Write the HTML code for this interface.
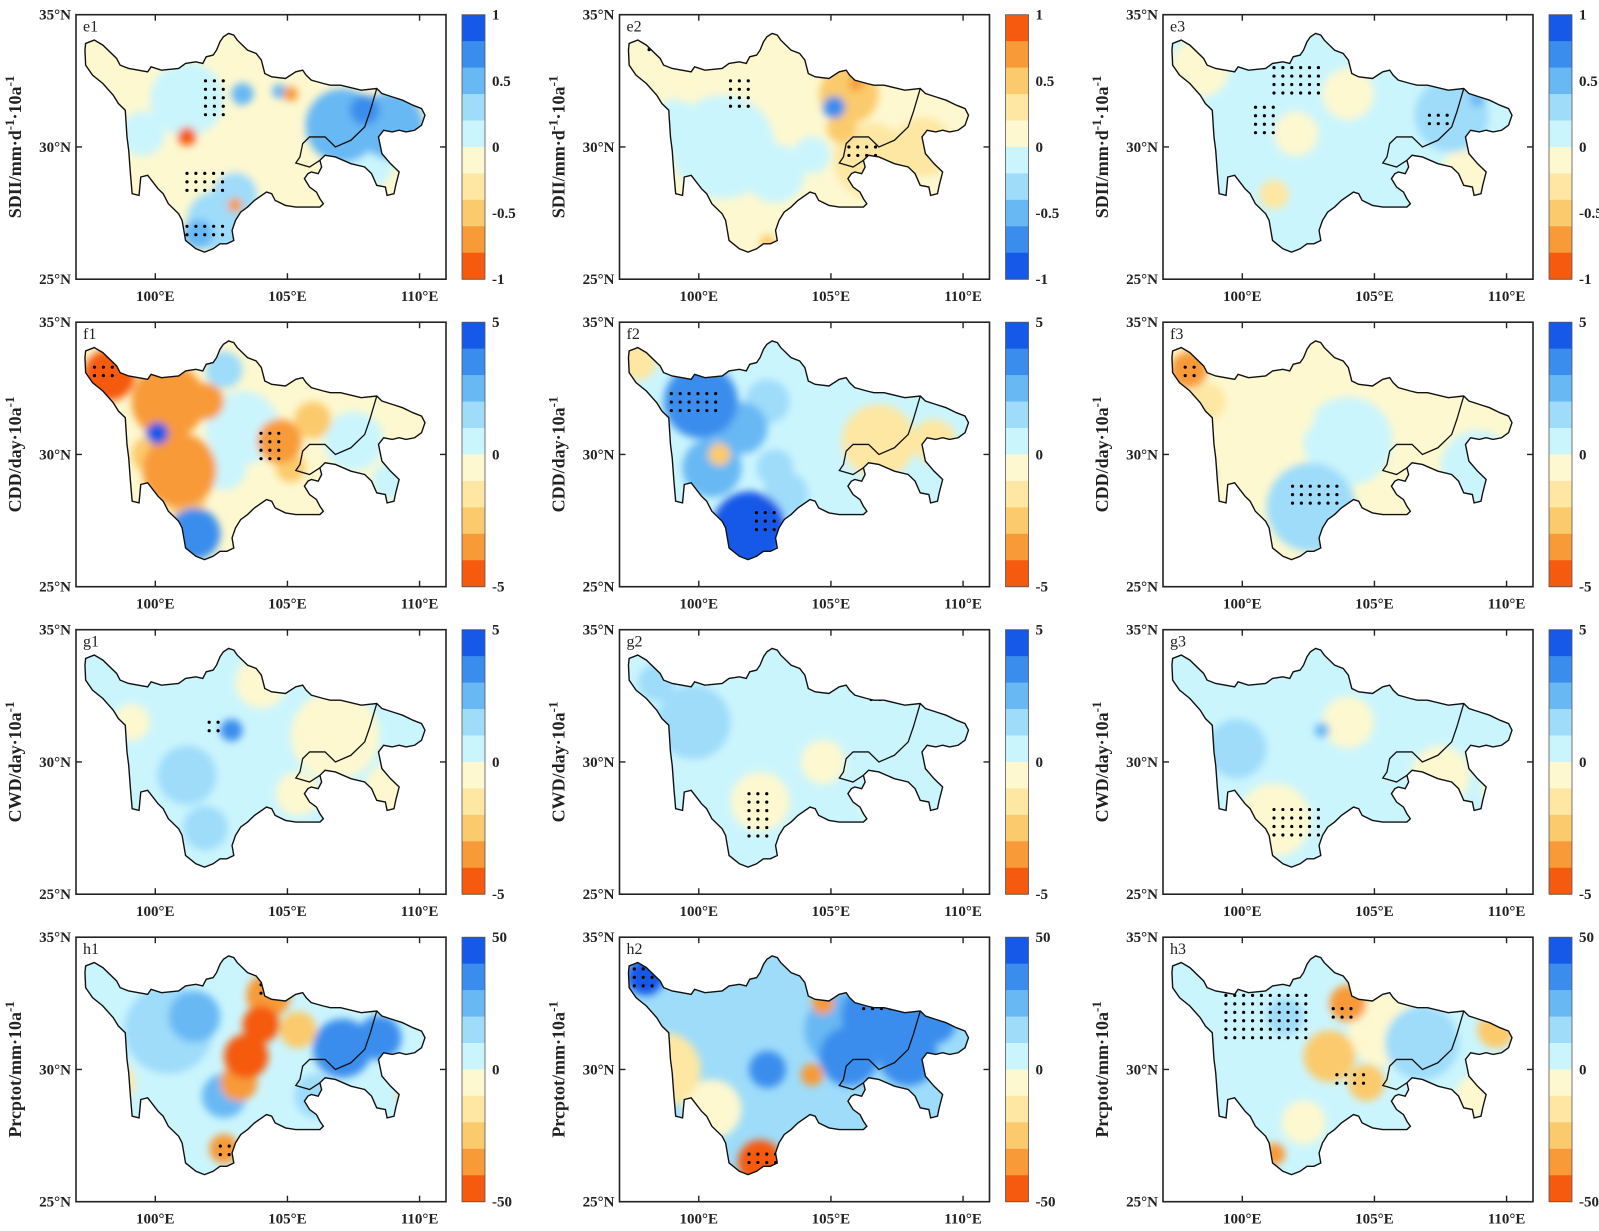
<!DOCTYPE html>
<html><head><meta charset="utf-8">
<style>
html,body{margin:0;padding:0;background:#fff;}
svg{display:block;font-family:"Liberation Serif",serif;}
.tk{font-weight:bold;font-size:15px;fill:#222;}
.yl{font-weight:bold;font-size:18px;fill:#222;}
.pl{font-size:16px;fill:#222;}
</style></head>
<body>
<svg id="fig" width="1599" height="1231" viewBox="0 0 1599 1231" xmlns="http://www.w3.org/2000/svg">
<defs><filter id="bl" x="-50%" y="-50%" width="200%" height="200%"><feGaussianBlur stdDeviation="4"/></filter></defs>
</svg>
<script>
// ---- data ----
const panelIds = ['e1','e2','e3','f1','f2','f3','g1','g2','g3','h1','h2','h3'];
const rowLabels = [['SDII/mm·d','-1','·10a','-1'],['CDD/day·10a','-1'],['CWD/day·10a','-1'],['Prcptot/mm·10a','-1']];
const rowMax = [1,5,5,50];
const tickLabelsE = ['1','0.5','0','-0.5','-1'];
const tickLabelsF = ['5','0','-5'];
const tickLabelsH = ['50','0','-50'];
const lonTicks = [100,105,110];
const latTicks = [35,30,25];
const reversedPanels = ['e2'];
const baseValues = [-0.05,0.1,0.1,-0.5,0.6,-0.5,0.3,0.6,0.6,3,15,5];
const e1Blobs=[[0.3,0.32,0.1,0.15],[0.18,0.45,0.06,0.12],[0.72,0.42,0.1,0.4],[0.85,0.42,0.09,0.45],[0.78,0.36,0.04,0.7],[0.38,0.78,0.08,0.35],[0.43,0.68,0.06,0.3],[0.33,0.83,0.04,0.55],[0.3,0.46,0.025,-0.8],[0.52,0.45,0.08,-0.2],[0.45,0.58,0.08,-0.12],[0.58,0.3,0.02,-0.7],[0.55,0.29,0.02,0.6],[0.43,0.72,0.02,-0.7],[0.45,0.3,0.03,0.5],[0.78,0.55,0.08,0.1]];
const e2Blobs=[[0.28,0.5,0.14,-0.15],[0.15,0.42,0.07,-0.1],[0.42,0.6,0.08,-0.1],[0.62,0.3,0.08,0.45],[0.68,0.55,0.1,0.35],[0.6,0.43,0.04,0.6],[0.64,0.26,0.02,0.7],[0.82,0.5,0.08,0.3],[0.58,0.35,0.03,-0.6],[0.52,0.53,0.05,-0.2],[0.4,0.86,0.02,0.6]];
const e3Blobs=[[0.1,0.2,0.08,-0.1],[0.36,0.45,0.06,-0.2],[0.3,0.68,0.04,-0.3],[0.5,0.3,0.07,-0.1],[0.78,0.38,0.1,0.25],[0.85,0.32,0.02,0.55],[0.5,0.6,0.08,0.2],[0.82,0.6,0.07,-0.05]];
const f1Blobs=[[0.09,0.2,0.07,-4.5],[0.25,0.3,0.1,-3.5],[0.28,0.56,0.1,-3],[0.2,0.5,0.05,-2],[0.55,0.45,0.06,-3],[0.64,0.37,0.05,-2.5],[0.22,0.42,0.03,4.5],[0.32,0.8,0.07,3.5],[0.4,0.18,0.05,2],[0.45,0.4,0.1,0.8],[0.4,0.55,0.06,1],[0.85,0.6,0.05,1],[0.75,0.45,0.08,0.3],[0.3,0.68,0.05,-2.5],[0.35,0.3,0.05,-3],[0.58,0.55,0.04,-2.5]];
const f2Blobs=[[0.22,0.3,0.1,3.5],[0.35,0.78,0.1,4.5],[0.25,0.55,0.08,2.5],[0.4,0.3,0.06,2],[0.33,0.4,0.07,2.5],[0.45,0.65,0.06,2],[0.7,0.45,0.1,-1],[0.85,0.45,0.06,-1.2],[0.05,0.15,0.05,-1.5],[0.27,0.5,0.03,-2.5],[0.42,0.55,0.05,1.5],[0.6,0.55,0.06,0.5]];
const f3Blobs=[[0.07,0.18,0.05,-3],[0.12,0.3,0.05,-1.5],[0.4,0.7,0.12,1.5],[0.5,0.45,0.12,0.7],[0.85,0.55,0.1,0.6],[0.12,0.58,0.02,3],[0.35,0.35,0.06,-0.8],[0.65,0.25,0.06,-0.8]];
const g1Blobs=[[0.42,0.38,0.03,3.5],[0.7,0.4,0.12,-0.5],[0.85,0.6,0.07,-0.5],[0.5,0.2,0.07,-0.5],[0.6,0.62,0.06,-0.5],[0.3,0.55,0.08,1.5],[0.35,0.75,0.06,1.5],[0.15,0.35,0.05,-0.5]];
const g2Blobs=[[0.38,0.65,0.08,-0.3],[0.2,0.35,0.1,1.5],[0.1,0.2,0.05,1.5],[0.55,0.5,0.06,-0.3],[0.7,0.65,0.05,-0.3]];
const g3Blobs=[[0.5,0.35,0.07,-0.5],[0.75,0.55,0.08,-0.5],[0.3,0.72,0.1,-0.5],[0.43,0.38,0.02,3],[0.2,0.45,0.08,1.2],[0.9,0.6,0.04,-0.8]];
const h1Blobs=[[0.25,0.35,0.12,12],[0.32,0.3,0.07,25],[0.4,0.6,0.06,25],[0.72,0.42,0.08,40],[0.82,0.38,0.06,35],[0.22,0.6,0.08,10],[0.52,0.22,0.06,-35],[0.5,0.33,0.05,-40],[0.46,0.45,0.06,-42],[0.44,0.55,0.05,-35],[0.92,0.6,0.05,-25],[0.1,0.55,0.06,-15],[0.4,0.8,0.04,-30],[0.6,0.35,0.05,-20],[0.95,0.3,0.03,-30],[0.65,0.6,0.06,15]];
const h2Blobs=[[0.07,0.15,0.05,45],[0.7,0.3,0.1,40],[0.78,0.45,0.08,40],[0.62,0.45,0.08,38],[0.85,0.32,0.06,38],[0.4,0.5,0.05,35],[0.6,0.35,0.1,25],[0.12,0.5,0.1,-15],[0.38,0.85,0.06,-40],[0.52,0.52,0.03,-30],[0.25,0.65,0.08,-5],[0.55,0.25,0.03,-35]];
const h3Blobs=[[0.33,0.3,0.05,20],[0.5,0.25,0.05,-35],[0.45,0.45,0.07,-25],[0.55,0.55,0.05,-20],[0.3,0.82,0.03,-35],[0.9,0.35,0.05,-20],[0.6,0.35,0.1,-8],[0.85,0.6,0.06,-5],[0.38,0.7,0.06,-5],[0.7,0.4,0.1,15]];
const blobSets=[e1Blobs,e2Blobs,e3Blobs,f1Blobs,f2Blobs,f3Blobs,g1Blobs,g2Blobs,g3Blobs,h1Blobs,h2Blobs,h3Blobs];
const e1Dots=[[0.35,0.25,0.42,0.38],[0.3,0.6,0.4,0.68],[0.3,0.8,0.4,0.84]];
const e2Dots=[[0.08,0.1,0.14,0.15],[0.3,0.25,0.35,0.36],[0.62,0.5,0.7,0.54]];
const e3Dots=[[0.3,0.2,0.42,0.3],[0.25,0.35,0.3,0.45],[0.72,0.38,0.78,0.42]];
const f1Dots=[[0.05,0.17,0.12,0.22],[0.5,0.42,0.56,0.52]];
const f2Dots=[[0.14,0.27,0.28,0.35],[0.37,0.72,0.42,0.8]];
const f3Dots=[[0.06,0.17,0.1,0.22],[0.35,0.62,0.48,0.7]];
const g1Dots=[[0.36,0.35,0.4,0.4]];
const g2Dots=[[0.35,0.62,0.4,0.78],[0.68,0.2,0.72,0.28]];
const g3Dots=[[0.3,0.68,0.42,0.8],[0.9,0.55,0.95,0.65]];
const h1Dots=[[0.5,0.18,0.56,0.22],[0.39,0.79,0.43,0.83]];
const h2Dots=[[0.04,0.12,0.09,0.2],[0.35,0.82,0.43,0.88],[0.66,0.27,0.74,0.3]];
const h3Dots=[[0.17,0.22,0.4,0.38],[0.46,0.27,0.52,0.33],[0.47,0.52,0.55,0.56]];
const dotSets=[e1Dots,e2Dots,e3Dots,f1Dots,f2Dots,f3Dots,g1Dots,g2Dots,g3Dots,h1Dots,h2Dots,h3Dots];

const colorsBlueTop=['#1459e8','#3b8ded','#68b8f4','#9edcfa','#cbf5fd','#fdf8d0','#fde7a3','#fbca6c','#f89a38','#f55a0f'];
const outlineRaw=[[250,130],[275,120],[300,135],[340,175],[350,195],[375,205],[430,215],[440,200],[470,210],[520,205],[540,190],[570,185],[590,190],[600,170],[620,165],[630,150],[640,125],[650,110],[665,100],[680,105],[690,120],[720,150],[745,160],[760,180],[770,220],[790,230],[830,235],[860,215],[880,210],[890,225],[905,240],[940,250],[960,255],[990,255],[1050,270],[1095,265],[1110,280],[1140,290],[1170,300],[1200,315],[1225,325],[1235,345],[1225,375],[1205,390],[1180,395],[1160,390],[1140,395],[1115,390],[1100,410],[1110,460],[1135,490],[1160,515],[1150,555],[1145,580],[1125,585],[1120,560],[1095,555],[1080,520],[1060,500],[1020,490],[975,470],[945,465],[930,480],[935,500],[925,520],[905,515],[895,520],[885,535],[900,560],[920,575],[930,595],[940,610],[930,620],[900,620],[860,620],[830,615],[800,600],[790,580],[775,575],[740,600],[720,620],[700,635],[685,660],[675,690],[680,720],[660,730],[640,730],[620,745],[595,755],[570,745],[540,720],[535,690],[530,660],[520,640],[490,610],[475,580],[460,565],[430,525],[410,530],[405,585],[385,580],[380,520],[375,450],[370,410],[365,330],[345,310],[330,285],[300,250],[270,225],[250,195],[248,150]];
const innerRaw=[[1095,265],[1085,300],[1075,335],[1060,380],[1020,420],[975,440],[945,410],[900,410],[880,430],[872,470],[860,488],[900,500],[930,480]];

// ---- drawing ----
const NS='http://www.w3.org/2000/svg';
const svg=document.getElementById('fig');
const BW=370, BH=264.5, X0=76, Y0=14.7, DX=543.5, DY=307.5;
function el(t,a,p){const e=document.createElementNS(NS,t);for(const k in a)e.setAttribute(k,a[k]);(p||svg).appendChild(e);return e;}
function pts(raw){return raw.map(p=>[(p[0]-222)/1074*BW,(p[1]-44)/792*BH]);}
const outline=pts(outlineRaw), inner=pts(innerRaw);
const outlineStr=outline.map(p=>p.join(',')).join(' ');
const lonX=l=>(l-97)/14*BW, latY=l=>(35-l)/10*BH;

panelIds.forEach((id,i)=>{
  const r=Math.floor(i/3), c=i%3;
  const bx=X0+c*DX, by=Y0+r*DY;
  const M=rowMax[r];
  const cols=reversedPanels.includes(id)?colorsBlueTop.slice().reverse():colorsBlueTop;
  const colorOf=v=>{let k=Math.floor((M-v)/(2*M/10));k=Math.max(0,Math.min(9,k));return cols[k];};
  const g=el('g',{transform:`translate(${bx},${by})`});
  
  
  const cp=el('clipPath',{id:'cp'+id},g);
  el('polygon',{points:outlineStr},cp);
  const map=el('g',{'clip-path':`url(#cp${id})`},g);
  
  
  el('polygon',{points:outlineStr,fill:colorOf(baseValues[i])},map);
  const bg=el('g',{filter:'url(#bl)'},map);
  blobSets[i].slice().sort((a,b)=>Math.abs(a[3])-Math.abs(b[3])).forEach(b=>{
    const ci=el('circle',{cx:b[0]*BW,cy:b[1]*BH,r:b[2]*BW,fill:colorOf(b[3])},bg);
    
    
  });
  dotSets[i].forEach(d=>{
    for(let u=d[0];u<=d[2]+1e-6;u+=0.024)for(let v=d[1];v<=d[3]+1e-6;v+=0.032){
      const dt=el('circle',{cx:u*BW,cy:v*BH,r:1.6,fill:'#000'},map);
      
      
    }
  });
  const ol=el('polygon',{points:outlineStr,fill:'none',stroke:'#111','stroke-width':1.4},g);
  
  
  const il=el('polyline',{points:inner.map(p=>p.join(',')).join(' '),fill:'none',stroke:'#111','stroke-width':1.3},g);
  
  
  const fr=el('rect',{x:0,y:0,width:BW,height:BH,fill:'none',stroke:'#222','stroke-width':1.6},g);
  
  
  lonTicks.forEach(l=>{
    const x=lonX(l);
    el('line',{x1:x,y1:0,x2:x,y2:6,stroke:'#222','stroke-width':1.4},g);
    el('line',{x1:x,y1:BH,x2:x,y2:BH-6,stroke:'#222','stroke-width':1.4},g);
    const t=el('text',{x:x,y:BH+22,'text-anchor':'middle',class:'tk'},g);t.textContent=l+'°E';
    
    
  });
  latTicks.forEach(l=>{
    const y=latY(l);
    if(l===30){el('line',{x1:0,y1:y,x2:6,y2:y,stroke:'#222','stroke-width':1.4},g);el('line',{x1:BW,y1:y,x2:BW-6,y2:y,stroke:'#222','stroke-width':1.4},g);}
    const t=el('text',{x:-5,y:y+5,'text-anchor':'end',class:'tk'},g);t.textContent=l+'°N';
    
    
  });
  const pl=el('text',{x:7,y:17,class:'pl'},g);pl.textContent=id;
  
  
  const yl=el('text',{class:'yl','text-anchor':'middle',transform:`translate(-55,${BH/2}) rotate(-90)`},g);
  
  
  const parts=rowLabels[r];
  parts.forEach((s,k)=>{const ts=el('tspan',{},yl);ts.textContent=s;if(k%2===1){ts.setAttribute('baseline-shift','super');ts.setAttribute('font-size','13');}});
  const cb=el('g',{transform:`translate(386,0)`},g);
  
  
  cols.forEach((col,k)=>el('rect',{x:0,y:k*BH/10,width:23,height:BH/10+0.5,fill:col},cb));
  el('rect',{x:0,y:0,width:23,height:BH,fill:'none',stroke:'#555','stroke-width':0.8},cb);
  const labs=r===0?tickLabelsE:(r===3?tickLabelsH:tickLabelsF);
  labs.forEach((s,k)=>{
    const y=k*BH/(labs.length-1);
    const t=el('text',{x:30,y:y+5,class:'tk'},cb);t.textContent=s;
    
    
  });
});
</script>
</body></html>
